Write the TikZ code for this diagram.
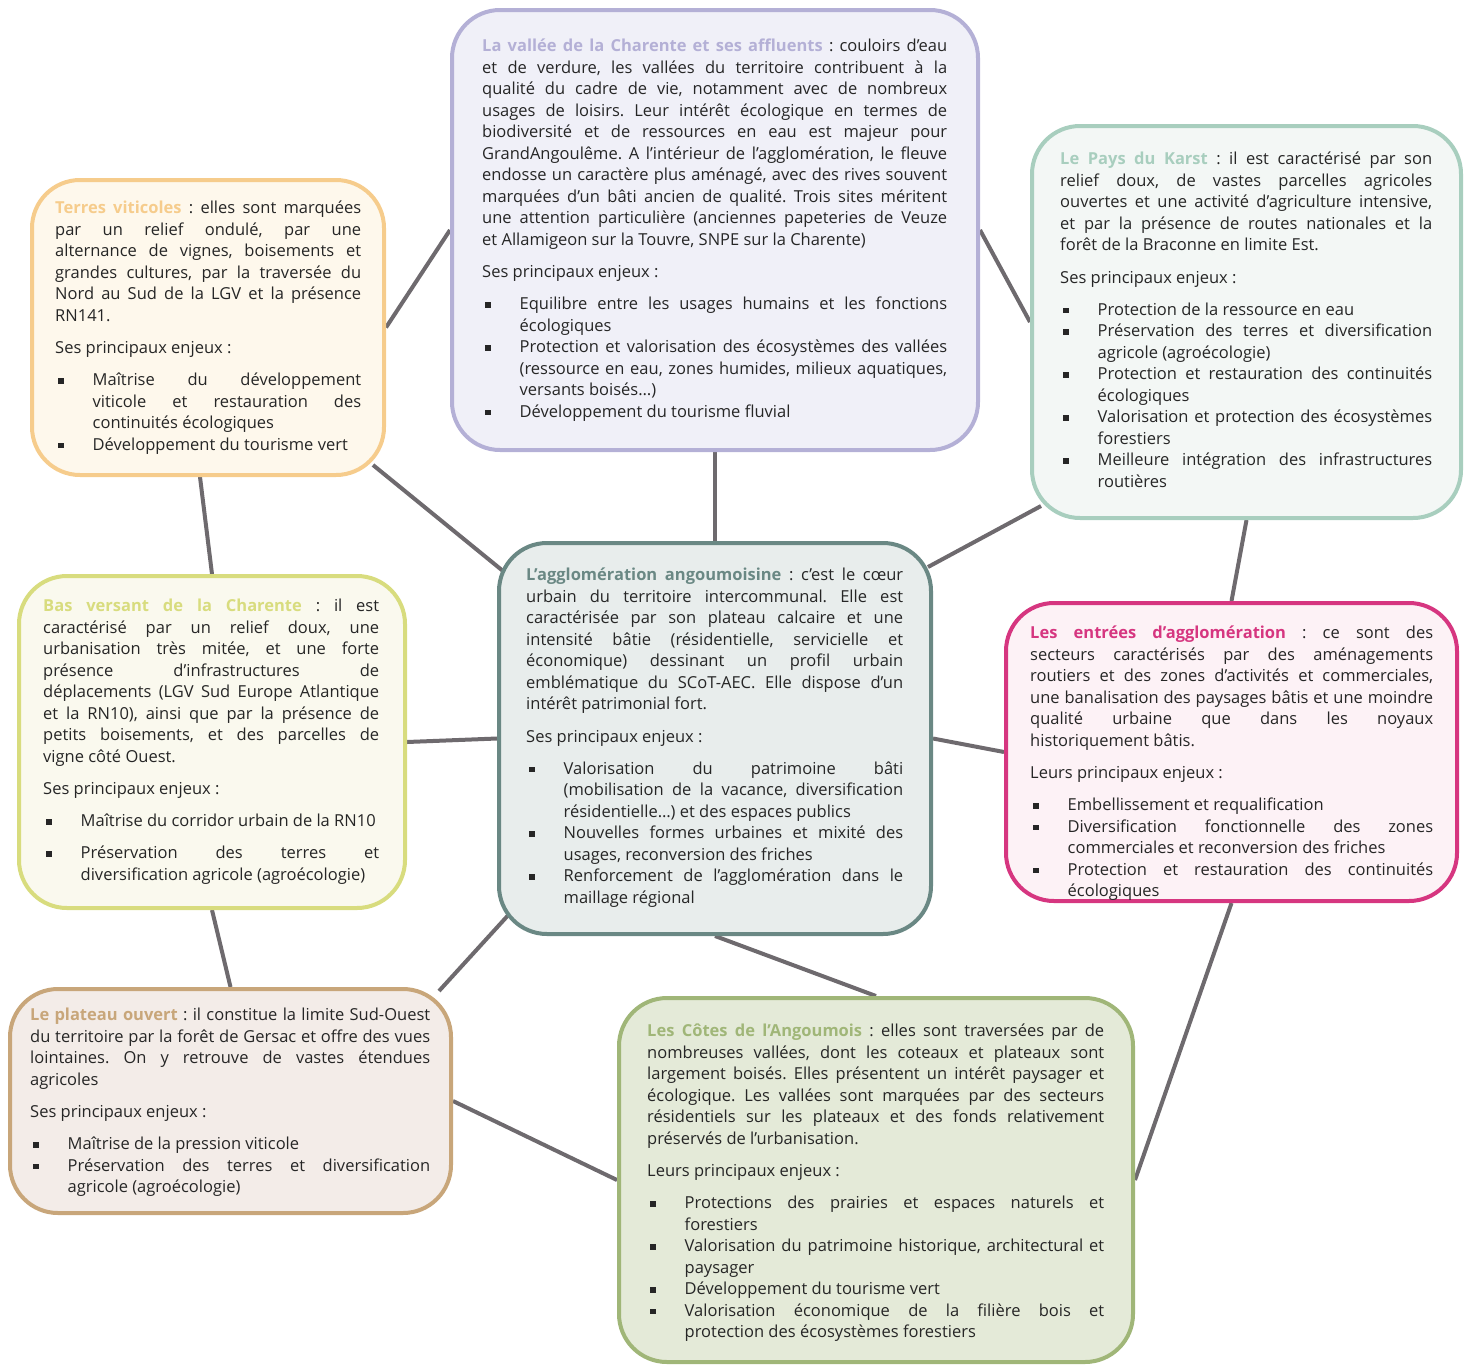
\documentclass[tikz,border=0pt]{standalone}
\usepackage{fontspec}
\setmainfont{Open Sans}
\usetikzlibrary{backgrounds}

% couleurs des unités paysagères
\definecolor{terresC}{HTML}{F6CC8C}
\definecolor{terresF}{HTML}{FEF8EC}
\definecolor{valleeC}{HTML}{B4B0D6}
\definecolor{valleeF}{HTML}{F0F0F8}
\definecolor{karstC}{HTML}{A8CEBE}
\definecolor{karstF}{HTML}{F3F7F5}
\definecolor{basvC}{HTML}{D8DC7E}
\definecolor{basvF}{HTML}{FAF9EE}
\definecolor{aggloC}{HTML}{6A8884}
\definecolor{aggloF}{HTML}{E8EDEC}
\definecolor{entreesC}{HTML}{D63680}
\definecolor{entreesF}{HTML}{FDF2F6}
\definecolor{plateauC}{HTML}{C8A67A}
\definecolor{plateauF}{HTML}{F3ECE8}
\definecolor{cotesC}{HTML}{A0B678}
\definecolor{cotesF}{HTML}{E4EAD8}
\definecolor{lien}{HTML}{6E6A6E}
\definecolor{texte}{HTML}{262626}

\tolerance=10000
\hbadness=10000
\hyphenpenalty=10000
\emergencystretch=2em
\frenchspacing

\newcommand{\titre}[2]{\strut{\bfseries\color{#1}#2}}
\newcommand{\enjeux}[1]{\par\vspace{11pt}\noindent#1\par\vspace{10.5pt}}
\newcommand{\puce}{\par\noindent\hangindent=37.5pt\hangafter=1\makebox[37.5pt][l]{\hspace{3pt}\raisebox{2pt}{\rule{5.5pt}{5.5pt}}}}

\begin{document}
\begin{tikzpicture}[x=1pt, y=-1pt,
    box/.style={draw, line width=4pt, rounded corners=48pt, inner sep=0pt},
    txt/.style={anchor=north west, inner sep=0pt, align=justify, text=texte,
      font=\fontsize{16.5}{21.5}\selectfont},
    link/.style={line width=4pt, draw=lien}]
    \useasboundingbox (0,0) rectangle (1469,1365);

    % Cadres
    \node[box, draw=terresC, fill=terresF, minimum width=352pt, minimum height=295pt] (terres) at (208,327.5) {};
    \node[box, draw=valleeC, fill=valleeF, minimum width=526pt, minimum height=440pt] (vallee) at (715,230) {};
    \node[box, draw=karstC, fill=karstF, minimum width=429pt, minimum height=392pt] (karst) at (1246.5,322) {};
    \node[box, draw=basvC, fill=basvF, minimum width=386pt, minimum height=332pt] (basv) at (212,742) {};
    \node[box, draw=aggloC, fill=aggloF, minimum width=432pt, minimum height=391pt] (agglo) at (715,738.5) {};
    \node[box, draw=entreesC, fill=entreesF, minimum width=451pt, minimum height=298pt] (entrees) at (1231.5,752) {};
    \node[box, draw=plateauC, fill=plateauF, minimum width=441pt, minimum height=224pt] (plateau) at (230.5,1101) {};
    \node[box, draw=cotesC, fill=cotesF, minimum width=514pt, minimum height=364pt] (cotes) at (876,1180) {};

    % Liens (derrière les cadres)
    \begin{scope}[on background layer]
        \draw[link] (terres.east) -- (vallee.west);
        \draw[link] ([xshift=-8pt]terres.south) -- (basv.north);
        \draw[link] ([shift={(-13,-12)}]terres.south east) -- ([shift={(6,30)}]agglo.north west);
        \draw[link] (vallee.south) -- (agglo.north);
        \draw[link] (vallee.east) -- (karst.west);
        \draw[link] ([shift={(11,-14)}]karst.south west) -- ([shift={(-5,26)}]agglo.north east);
        \draw[link] (karst.south) -- (entrees.north);
        \draw[link] (basv.east) -- (agglo.west);
        \draw[link] (basv.south) -- (plateau.north);
        \draw[link] (agglo.east) -- (entrees.west);
        \draw[link] ([shift={(15,-25)}]agglo.south west) -- ([shift={(-14,4)}]plateau.north east);
        \draw[link] (agglo.south) -- (cotes.north);
        \draw[link] (plateau.east) -- (cotes.west);
        \draw[link] (entrees.south) -- (cotes.east);
    \end{scope}

    % Textes
    \node[txt, text width=306pt] (terrestxt) at (55,198.5) {\titre{terresC}{Terres viticoles} : elles sont marquées\linebreak
        par un relief ondulé, par une\linebreak
        alternance de vignes, boisements et\linebreak
        grandes cultures, par la traversée du\linebreak
        Nord au Sud de la LGV et la présence\linebreak
        RN141.
        \enjeux{Ses principaux enjeux :}
        \puce Maîtrise du développement\linebreak viticole et restauration des\linebreak continuités écologiques
        \puce Développement du tourisme vert\par};

    \node[txt, text width=465pt] (valleetxt) at (482,36.5) {\titre{valleeC}{La vallée de la Charente et ses affluents} : couloirs d’eau\linebreak
        et de verdure, les vallées du territoire contribuent à la\linebreak
        qualité du cadre de vie, notamment avec de nombreux\linebreak
        usages de loisirs. Leur intérêt écologique en termes de\linebreak
        biodiversité et de ressources en eau est majeur pour\linebreak
        GrandAngoulême. A l’intérieur de l’agglomération, le fleuve\linebreak
        endosse un caractère plus aménagé, avec des rives souvent\linebreak
        marquées d’un bâti ancien de qualité. Trois sites méritent\linebreak
        une attention particulière (anciennes papeteries de Veuze\linebreak
        et Allamigeon sur la Touvre, SNPE sur la Charente)
        \enjeux{Ses principaux enjeux :}
        \puce Equilibre entre les usages humains et les fonctions\linebreak écologiques
        \puce Protection et valorisation des écosystèmes des vallées\linebreak (ressource en eau, zones humides, milieux aquatiques,\linebreak versants boisés…)
        \puce Développement du tourisme fluvial\par};

    \node[txt, text width=372pt] (karsttxt) at (1060,149.5) {\titre{karstC}{Le Pays du Karst} : il est caractérisé par son\linebreak
        relief doux, de vastes parcelles agricoles\linebreak
        ouvertes et une activité d’agriculture intensive,\linebreak
        et par la présence de routes nationales et la\linebreak
        forêt de la Braconne en limite Est.
        \enjeux{Ses principaux enjeux :}
        \puce Protection de la ressource en eau
        \puce Préservation des terres et diversification\linebreak agricole (agroécologie)
        \puce Protection et restauration des continuités\linebreak écologiques
        \puce Valorisation et protection des écosystèmes\linebreak forestiers
        \puce Meilleure intégration des infrastructures\linebreak routières\par};

    \node[txt, text width=336pt] (basvtxt) at (43,596.5) {\titre{basvC}{Bas versant de la Charente} : il est\linebreak
        caractérisé par un relief doux, une\linebreak
        urbanisation très mitée, et une forte\linebreak
        présence d’infrastructures de\linebreak
        déplacements (LGV Sud Europe Atlantique\linebreak
        et la RN10), ainsi que par la présence de\linebreak
        petits boisements, et des parcelles de\linebreak
        vigne côté Ouest.
        \enjeux{Ses principaux enjeux :}
        \puce Maîtrise du corridor urbain de la RN10\par\vspace{10.5pt}
        \puce Préservation des terres et\linebreak diversification agricole (agroécologie)\par};

    \node[txt, text width=377pt] (agglotxt) at (526,565.5) {\titre{aggloC}{L’agglomération angoumoisine} : c’est le cœur\linebreak
        urbain du territoire intercommunal. Elle est\linebreak
        caractérisée par son plateau calcaire et une\linebreak
        intensité bâtie (résidentielle, servicielle et\linebreak
        économique) dessinant un profil urbain\linebreak
        emblématique du SCoT-AEC. Elle dispose d’un\linebreak
        intérêt patrimonial fort.
        \enjeux{Ses principaux enjeux :}
        \puce Valorisation du patrimoine bâti\linebreak (mobilisation de la vacance, diversification\linebreak résidentielle…) et des espaces publics
        \puce Nouvelles formes urbaines et mixité des\linebreak usages, reconversion des friches
        \puce Renforcement de l’agglomération dans le\linebreak maillage régional\par};

    \node[txt, text width=403pt] (entreestxt) at (1030,623.5) {\titre{entreesC}{Les entrées d’agglomération} : ce sont des\linebreak
        secteurs caractérisés par des aménagements\linebreak
        routiers et des zones d’activités et commerciales,\linebreak
        une banalisation des paysages bâtis et une moindre\linebreak
        qualité urbaine que dans les noyaux\linebreak
        historiquement bâtis.
        \enjeux{Leurs principaux enjeux :}
        \puce Embellissement et requalification
        \puce Diversification fonctionnelle des zones\linebreak commerciales et reconversion des friches
        \puce Protection et restauration des continuités\linebreak écologiques\par};

    \node[txt, text width=400pt] (plateautxt) at (30,1005.5) {\titre{plateauC}{Le plateau ouvert} : il constitue la limite Sud-Ouest\linebreak
        du territoire par la forêt de Gersac et offre des vues\linebreak
        lointaines. On y retrouve de vastes étendues\linebreak
        agricoles
        \enjeux{Ses principaux enjeux :}
        \puce Maîtrise de la pression viticole
        \puce Préservation des terres et diversification\linebreak agricole (agroécologie)\par};

    \node[txt, text width=457pt] (cotestxt) at (647,1021.5) {\titre{cotesC}{Les Côtes de l’Angoumois} : elles sont traversées par de\linebreak
        nombreuses vallées, dont les coteaux et plateaux sont\linebreak
        largement boisés. Elles présentent un intérêt paysager et\linebreak
        écologique. Les vallées sont marquées par des secteurs\linebreak
        résidentiels sur les plateaux et des fonds relativement\linebreak
        préservés de l’urbanisation.
        \enjeux{Leurs principaux enjeux :}
        \puce Protections des prairies et espaces naturels et\linebreak forestiers
        \puce Valorisation du patrimoine historique, architectural et\linebreak paysager
        \puce Développement du tourisme vert
        \puce Valorisation économique de la filière bois et\linebreak protection des écosystèmes forestiers\par};
\end{tikzpicture}
\end{document}
